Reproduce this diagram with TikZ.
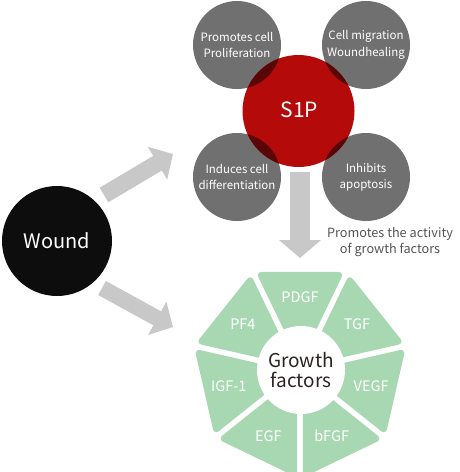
\documentclass[tikz,border=0pt]{standalone}
\usepackage{fontspec}
\setmainfont{Noto Sans CJK KR}
\usetikzlibrary{arrows.meta}
\definecolor{cgray}{RGB}{112,112,112}
\definecolor{cred}{RGB}{180,10,10}
\definecolor{cdark}{RGB}{88,6,6}
\definecolor{carrow}{RGB}{200,200,200}
\definecolor{cgreen}{RGB}{168,216,178}
\definecolor{ctext}{RGB}{85,85,85}
\definecolor{cdtext}{RGB}{45,35,35}
\tikzset{
  graycirc/.style={circle, fill=cgray, minimum size=88pt, inner sep=0pt, text=white, align=center,
    font=\fontsize{11.5}{16.5}\selectfont},
  redcirc/.style={circle, fill=cred, minimum size=112pt, inner sep=0pt, text=white,
    font=\fontsize{21}{24}\selectfont},
  woundcirc/.style={circle, fill=black!95, minimum size=110pt, inner sep=0pt, text=white,
    font=\fontsize{20}{24}\selectfont},
  centercirc/.style={circle, fill=white, minimum size=88pt, inner sep=0pt, text=cdtext, align=center,
    font=\fontsize{19}{20}\selectfont},
  seglab/.style={text=white, font=\fontsize{14.5}{16}\selectfont, inner sep=0pt},
  notelab/.style={text=ctext, align=center, font=\fontsize{12.7}{16}\selectfont, inner sep=0pt},
  blockarrow/.style={draw=carrow, line width=17pt, -{Triangle[length=18pt, width=37pt]}},
  downarrow/.style={draw=carrow, line width=20pt, -{Triangle[length=18pt, width=41pt]}},
}
\begin{document}
\begin{tikzpicture}[x=1pt, y=-1pt]
\useasboundingbox (0,0) rectangle (460,472);

% S1P cluster
\node[graycirc] (pc) at (237,45) {Promotes cell\\Proliferation};
\node[graycirc] (cm) at (366,45) {Cell migration\\Woundhealing};
\node[graycirc] (ic) at (237,177) {Induces cell\\differentiation};
\node[graycirc] (ia) at (366,177) {Inhibits\\apoptosis};
\node[redcirc] (s1p) at (298.5,111) {};
\begin{scope}
  \clip (298.5,111) circle (56);
  \fill[cdark] (237,45) circle (44);
  \fill[cdark] (366,45) circle (44);
  \fill[cdark] (237,177) circle (44);
  \fill[cdark] (366,177) circle (44);
\end{scope}
\node[text=white, font=\fontsize{21}{24}\selectfont, inner sep=0pt] (s1plab) at (299.5,110) {S1P};

% Wound
\node[woundcirc] (wound) at (57,241) {Wound};

% arrows
\coordinate (a1s) at (104,195);
\coordinate (a1e) at (173,154);
\coordinate (a2s) at (102,288);
\coordinate (a2e) at (173,327);
\coordinate (a3s) at (300,172);
\coordinate (a3e) at (300,258);
\draw[blockarrow] (a1s) -- (a1e);
\draw[blockarrow, line width=16pt] (a2s) -- (a2e);
\draw[downarrow] (a3s) -- (a3e);

\node[notelab] (note) at (390,242) {Promotes the activity\\of growth factors};

% Growth factors
\foreach \k/\lab in {0/PDGF,1/TGF,2/VEGF,3/bFGF,4/EGF,5/IGF-1,6/PF4} {
  \pgfmathsetmacro\ph{90-51.42857*\k}
  \begin{scope}[shift={(300,370)}]
    \begin{scope}[shift={(-\ph:6.5)}]
      \fill[cgreen, rounded corners=6pt] (0,0) -- (-\ph-25.714:101.6) -- (-\ph+25.714:101.6) -- cycle;
    \end{scope}
    \node[seglab] (g\k) at (-\ph:73) {\lab};
  \end{scope}
}
\node[centercirc] (gf) at (301,370) {Growth\\factors};
\end{tikzpicture}
\end{document}
